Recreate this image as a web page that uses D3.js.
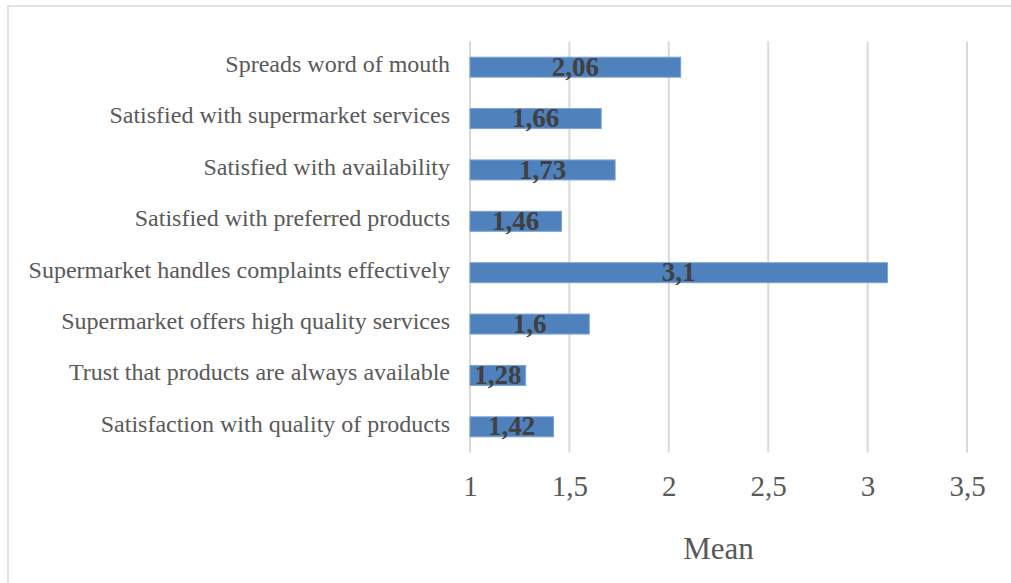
<!DOCTYPE html>
<html>
<head>
    <meta charset="utf-8" />
    <script src="https://cdn.jsdelivr.net/npm/d3@7"></script>
    <style>
        html, body { margin: 0; padding: 0; background: #fff; }
        svg { display: block; }
    </style>
</head>
<body>
    <div id="chart"></div>
    <script>
        // data, top to bottom as in the chart
        var categories = [
            'Spreads word of mouth',
            'Satisfied with supermarket services',
            'Satisfied with availability',
            'Satisfied with preferred products',
            'Supermarket handles complaints effectively',
            'Supermarket offers high quality services',
            'Trust that products are always available',
            'Satisfaction with quality of products'
        ];
        var means = [2.06, 1.66, 1.73, 1.46, 3.1, 1.6, 1.28, 1.42];
        var meanLabels = ['2,06', '1,66', '1,73', '1,46', '3,1', '1,6', '1,28', '1,42'];
        var tickValues = [1, 1.5, 2, 2.5, 3, 3.5];
        var tickLabels = ['1', '1,5', '2', '2,5', '3', '3,5'];
        var axisTitle = 'Mean';

        var width = 1011, height = 583;
        var plot = { left: 470, right: 967, top: 41.5, bottom: 452.5 };
        var font = '"Liberation Serif", "Times New Roman", serif';

        var svg = d3.select('#chart').append('svg')
            .attr('width', width)
            .attr('height', height);

        // chart frame (right and bottom edges are cut off in the original)
        svg.append('rect')
            .attr('x', 8).attr('y', 6)
            .attr('width', width + 10).attr('height', height + 10)
            .attr('fill', 'none')
            .attr('stroke', '#d9d9d9')
            .attr('stroke-width', 1.5);

        var x = d3.scaleLinear()
            .domain([1, 3.5])
            .range([plot.left, plot.right]);

        var y = d3.scaleBand()
            .domain(categories)
            .range([plot.top, plot.bottom])
            .paddingInner(0.611)
            .paddingOuter(0.3055);

        // gridlines
        svg.append('g')
            .selectAll('line')
            .data(tickValues)
            .enter().append('line')
            .attr('x1', d => x(d)).attr('x2', d => x(d))
            .attr('y1', plot.top).attr('y2', plot.bottom)
            .attr('stroke', '#d9d9d9')
            .attr('stroke-width', 2);

        // bars
        svg.append('g')
            .selectAll('rect')
            .data(means)
            .enter().append('rect')
            .attr('x', x(1))
            .attr('y', (d, i) => y(categories[i]))
            .attr('width', d => x(d) - x(1))
            .attr('height', y.bandwidth())
            .attr('fill', '#4f81bd')
            .attr('stroke', '#7aa2d6')
            .attr('stroke-width', 1);

        // data labels
        svg.append('g')
            .selectAll('text')
            .data(means)
            .enter().append('text')
            .attr('x', d => (x(1) + x(d)) / 2)
            .attr('y', (d, i) => y(categories[i]) + y.bandwidth() / 2)
            .attr('dy', '0.32em')
            .attr('text-anchor', 'middle')
            .attr('font-family', font)
            .attr('font-weight', 'bold')
            .attr('font-size', 27)
            .attr('fill', '#404040')
            .text((d, i) => meanLabels[i]);

        // category axis
        var yAxis = svg.append('g')
            .attr('transform', 'translate(' + (plot.left - 20) + ',0)')
            .call(d3.axisLeft(y).tickSize(0).tickPadding(0));
        yAxis.select('.domain').remove();
        yAxis.selectAll('text')
            .attr('font-family', font)
            .attr('font-size', 24)
            .attr('fill', '#595959')
            .attr('dy', '0.2em');

        // value axis
        var xAxis = svg.append('g')
            .attr('transform', 'translate(0,' + plot.bottom + ')')
            .call(d3.axisBottom(x)
                .tickValues(tickValues)
                .tickFormat((d, i) => tickLabels[i])
                .tickSize(0)
                .tickPadding(0));
        xAxis.select('.domain').remove();
        xAxis.selectAll('text')
            .attr('font-family', font)
            .attr('font-size', 29)
            .attr('fill', '#595959')
            .attr('dy', null)
            .attr('y', 496 - plot.bottom);

        svg.append('text')
            .attr('x', (plot.left + plot.right) / 2)
            .attr('y', 559)
            .attr('text-anchor', 'middle')
            .attr('font-family', font)
            .attr('font-size', 31)
            .attr('fill', '#595959')
            .text(axisTitle);
    </script>
</body>
</html>
